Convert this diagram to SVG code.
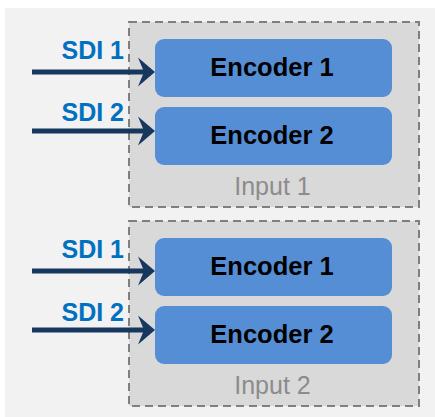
<svg xmlns="http://www.w3.org/2000/svg" width="435" height="417" viewBox="0 0 435 417">
<style>
.grp{fill:#d9d9d9;stroke:#7f7f7f;stroke-width:2;stroke-dasharray:8 5}
.enc{fill:#558ed5}
.et{font-family:"Liberation Sans",Arial,sans-serif;font-weight:bold;font-size:25.5px;fill:#000;text-anchor:middle}
.gl{font-family:"Liberation Sans",Arial,sans-serif;font-size:25px;fill:#8c8c8c;text-anchor:middle}
.sdi{font-family:"Liberation Sans",Arial,sans-serif;font-weight:bold;font-size:25px;fill:#0070c0;text-anchor:end}
.ar{stroke:#17375e;stroke-width:5;fill:none;marker-end:url(#ah)}
</style>
<defs>
<marker id="ah" markerUnits="userSpaceOnUse" markerWidth="18" markerHeight="30" refX="12" refY="15" orient="auto" overflow="visible">
<path d="M0,0.5 L17,15 L0,29.5 L6,15 Z" fill="#17375e"/>
</marker>
</defs>
<rect x="5" y="8" width="430" height="409" fill="#f2f2f2"/>
<g id="input1">
<rect class="grp" x="129" y="22" width="290" height="185"/>
<text class="gl" x="272.5" y="195">Input 1</text>
</g>
<g id="input2">
<rect class="grp" x="129" y="221" width="290" height="185"/>
<text class="gl" x="272.5" y="394">Input 2</text>
</g>
<g id="enc1a">
<rect class="enc" x="155" y="39" width="237" height="58" rx="9"/>
<text class="et" x="272" y="76">Encoder 1</text>
</g>
<g id="enc2a">
<rect class="enc" x="155" y="107" width="237" height="58" rx="9"/>
<text class="et" x="272" y="144">Encoder 2</text>
</g>
<g id="enc1b">
<rect class="enc" x="155" y="238" width="237" height="58" rx="9"/>
<text class="et" x="272" y="275">Encoder 1</text>
</g>
<g id="enc2b">
<rect class="enc" x="155" y="306" width="237" height="58" rx="9"/>
<text class="et" x="272" y="343">Encoder 2</text>
</g>
<g id="connectors">
<line class="ar" x1="32" y1="72" x2="150" y2="72"/>
<line class="ar" x1="32" y1="131" x2="150" y2="131"/>
<line class="ar" x1="32" y1="271" x2="150" y2="271"/>
<line class="ar" x1="32" y1="330" x2="150" y2="330"/>
<text class="sdi" x="124" y="59">SDI 1</text>
<text class="sdi" x="124" y="121">SDI 2</text>
<text class="sdi" x="124" y="258">SDI 1</text>
<text class="sdi" x="124" y="321">SDI 2</text>
</g>
</svg>
